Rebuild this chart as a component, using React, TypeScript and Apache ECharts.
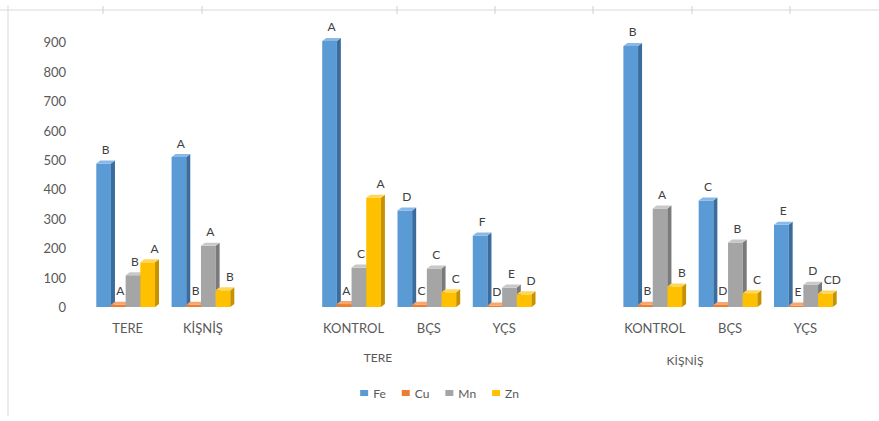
import React, { useEffect, useRef } from "react";
import * as echarts from "echarts";

// Category slots along the x axis (empty strings are spacer slots between groups)
const categories = ["TERE", "KİŞNİŞ", "", "KONTROL", "BÇS", "YÇS", "", "KONTROL", "BÇS", "YÇS"];

// Element concentrations per slot (null = spacer)
const feValues = [488, 510, null, 905, 328, 243, null, 888, 362, 280];
const cuValues = [8, 8, null, 10, 8, 5, null, 8, 7, 5];
const mnValues = [108, 208, null, 134, 131, 66, null, 335, 219, 76];
const znValues = [152, 57, null, 372, 50, 43, null, 70, 47, 46];

// Significance letters shown above each bar
const feLetters = ["B", "A", "", "A", "D", "F", "", "B", "C", "E"];
const cuLetters = ["A", "B", "", "A", "C", "D", "", "B", "D", "E"];
const mnLetters = ["B", "A", "", "C", "C", "E", "", "A", "B", "D"];
const znLetters = ["A", "B", "", "A", "C", "D", "", "B", "C", "CD"];

// Group captions under the treatment slots
const groupCaptions = ["TERE", "KİŞNİŞ"];

const yTicks = [0, 100, 200, 300, 400, 500, 600, 700, 800, 900];

// Page frame: cell-border ticks along the top rule
const frameTicks = [103, 202, 397, 495, 593, 692, 790];

const FONT = "Lato, 'Open Sans', sans-serif";
const TEXT = "#595959";

type Metal = {
  name: string;
  values: (number | null)[];
  letters: string[];
  front: string;
  side: string;
  top: string;
};

const metals: Metal[] = [
  { name: "Fe", values: feValues, letters: feLetters, front: "#5B9BD5", side: "#3A6C9E", top: "#8AB8E6" },
  { name: "Cu", values: cuValues, letters: cuLetters, front: "#ED7D31", side: "#B25A1E", top: "#F4A673" },
  { name: "Mn", values: mnValues, letters: mnLetters, front: "#A5A5A5", side: "#7A7A7A", top: "#C8C8C8" },
  { name: "Zn", values: znValues, letters: znLetters, front: "#FFC000", side: "#C79200", top: "#FFD659" },
];

function makeSeries(m: Metal, idx: number) {
  const data: [number, number][] = [];
  const letterByPoint: string[] = [];
  m.values.forEach((v, i) => {
    if (v !== null) {
      data.push([i, v]);
      letterByPoint.push(m.letters[i]);
    }
  });
  return {
    type: "custom",
    name: m.name,
    clip: false,
    itemStyle: { color: m.front },
    encode: { x: 0, y: 1 },
    data,
    renderItem: (params: any, api: any) => {
      const cat = api.value(0);
      const val = api.value(1);
      const base = api.coord([cat, 0]);
      const top = api.coord([cat, val]);
      const band = api.size([1, 0])[0];
      const w = band * 0.195;
      const dx = 4;
      const dy = 3;
      const x0 = base[0] - 2 * w - dx / 2 + idx * w;
      const yTop = top[1];
      const yBase = base[1];
      const letter = letterByPoint[params.dataIndex];
      const labelShift = m.name === "Zn" ? 5 : 0;
      return {
        type: "group",
        children: [
          {
            type: "rect",
            shape: { x: x0, y: yTop, width: w, height: yBase - yTop },
            style: { fill: m.front },
          },
          {
            type: "polygon",
            shape: {
              points: [
                [x0 + w, yTop],
                [x0 + w + dx, yTop - dy],
                [x0 + w + dx, yBase - dy],
                [x0 + w, yBase],
              ],
            },
            style: { fill: m.side },
          },
          {
            type: "polygon",
            shape: {
              points: [
                [x0, yTop],
                [x0 + dx, yTop - dy],
                [x0 + w + dx, yTop - dy],
                [x0 + w, yTop],
              ],
            },
            style: { fill: m.top },
          },
          {
            type: "text",
            x: x0 + w / 2 + dx / 2 + labelShift,
            y: yTop - dy - 5,
            style: {
              text: letter,
              fill: "#404040",
              font: `12px ${FONT}`,
              align: "center",
              verticalAlign: "bottom",
            },
          },
        ],
      };
    },
  };
}

export default function App() {
  const ref = useRef<HTMLDivElement>(null);

  useEffect(() => {
    if (!ref.current) return;
    const chart = echarts.init(ref.current, undefined, { renderer: "svg" });
    chart.setOption({
      animation: false,
      backgroundColor: "#ffffff",
      textStyle: { fontFamily: FONT },
      grid: { left: 90, right: 36, top: 13, bottom: 114 },
      xAxis: {
        type: "category",
        data: categories,
        axisLine: { show: false },
        axisTick: { show: false },
        axisLabel: { color: TEXT, fontSize: 13, margin: 14, fontFamily: FONT, interval: 0 },
        splitLine: { show: false },
      },
      yAxis: {
        type: "value",
        min: 0,
        max: 1000,
        interval: 100,
        axisLine: { show: false },
        axisTick: { show: false },
        splitLine: { show: false },
        axisLabel: {
          color: TEXT,
          fontSize: 13,
          margin: 24,
          fontFamily: FONT,
          showMaxLabel: false,
          formatter: (v: number) => (yTicks.includes(v) ? String(v) : ""),
        },
      },
      legend: {
        bottom: 17,
        left: "center",
        icon: "rect",
        itemWidth: 8,
        itemHeight: 6,
        itemGap: 16,
        textStyle: { color: TEXT, fontSize: 12, fontFamily: FONT },
        data: metals.map((m) => m.name),
      },
      graphic: [
        {
          type: "line",
          shape: { x1: 0, y1: 10, x2: 879, y2: 10 },
          style: { stroke: "#d9d9d9", lineWidth: 1 },
        },
        {
          type: "line",
          shape: { x1: 8, y1: 5, x2: 8, y2: 416 },
          style: { stroke: "#d9d9d9", lineWidth: 1 },
        },
        ...frameTicks.map((x) => ({
          type: "line",
          shape: { x1: x, y1: 6, x2: x, y2: 14 },
          style: { stroke: "#d0d0d0", lineWidth: 1 },
        })),
        {
          type: "text",
          x: 378,
          y: 357,
          style: { text: groupCaptions[0], fill: TEXT, font: `12px ${FONT}`, align: "center", verticalAlign: "middle" },
        },
        {
          type: "text",
          x: 685,
          y: 360,
          style: { text: groupCaptions[1], fill: TEXT, font: `12px ${FONT}`, align: "center", verticalAlign: "middle" },
        },
      ],
      series: metals.map((m, i) => makeSeries(m, i)),
    });
    return () => chart.dispose();
  }, []);

  return (
    <div
      ref={ref}
      style={{ position: "fixed", left: 0, top: 0, width: 879, height: 421, background: "#fff" }}
    />
  );
}
